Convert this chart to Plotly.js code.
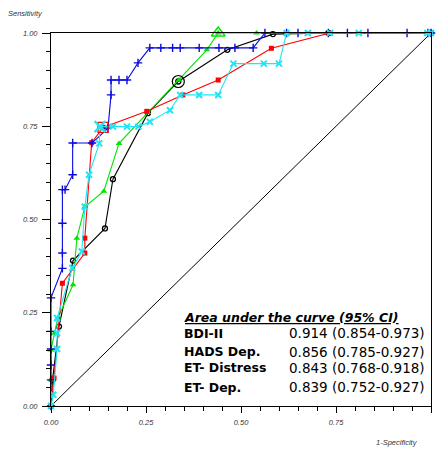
<!DOCTYPE html>
<html>
<head>
<meta charset="utf-8">
<script src="https://cdn.plot.ly/plotly-3.0.1.min.js"></script>
<style>
  html, body { margin: 0; padding: 0; background: #ffffff; }
  #chart { width: 437px; height: 450px; }
</style>
</head>
<body>
<div id="chart"></div>
<script>
// ---- Data (1-Specificity, Sensitivity) ----
const bdiFpr  = [0, 0, 0, 0, 0, 0, 0.03, 0.03, 0.03, 0.03, 0.037, 0.057, 0.057, 0.108, 0.15, 0.158, 0.158, 0.179, 0.2, 0.229, 0.26, 0.289, 0.32, 0.34, 0.39, 0.442, 0.484, 0.532, 0.563, 0.62, 0.65, 0.73, 0.78, 0.834, 0.937, 0.992, 1];
const bdiSens = [0, 0.07, 0.11, 0.153, 0.2, 0.29, 0.369, 0.41, 0.49, 0.58, 0.58, 0.62, 0.705, 0.705, 0.745, 0.834, 0.874, 0.874, 0.874, 0.92, 0.96, 0.96, 0.96, 0.96, 0.96, 0.96, 0.96, 0.96, 1, 1, 1, 1, 1, 1, 1, 1, 1];

const hadsFpr  = [0, 0.008, 0.03, 0.089, 0.089, 0.107, 0.137, 0.252, 0.347, 0.44, 0.58, 0.734, 1];
const hadsSens = [0, 0.075, 0.329, 0.41, 0.45, 0.706, 0.747, 0.79, 0.834, 0.874, 0.959, 1, 1];

const etDisFpr  = [0, 0, 0, 0.009, 0.018, 0.058, 0.068, 0.089, 0.139, 0.179, 0.255, 0.337, 0.41, 0.44, 0.541, 1];
const etDisSens = [0, 0.07, 0.15, 0.195, 0.236, 0.325, 0.45, 0.534, 0.576, 0.704, 0.787, 0.874, 0.955, 1, 1, 1];

const etDepFpr  = [0, 0.004, 0.021, 0.058, 0.142, 0.163, 0.255, 0.335, 0.464, 0.584, 0.73, 1];
const etDepSens = [0, 0.07, 0.213, 0.39, 0.476, 0.608, 0.785, 0.87, 0.955, 0.997, 1, 1];

const cyanFpr  = [0, 0.006, 0.016, 0.016, 0.016, 0.056, 0.081, 0.089, 0.1, 0.127, 0.129, 0.163, 0.2, 0.23, 0.26, 0.313, 0.34, 0.39, 0.44, 0.48, 0.56, 0.6, 0.62, 0.676, 0.734, 0.81, 0.99, 1];
const cyanSens = [0, 0.03, 0.153, 0.195, 0.236, 0.37, 0.414, 0.534, 0.62, 0.704, 0.749, 0.749, 0.749, 0.749, 0.762, 0.793, 0.834, 0.834, 0.834, 0.918, 0.918, 0.918, 1, 1, 1, 1, 1, 1];

// optimal cut-off points [fpr, sens]
const hadsCut  = [0.137, 0.747];
const cyanCut  = [0.129, 0.749];
const etDepCut = [0.335, 0.87];
const etDisCut = [0.44, 1.0];

const chanceX = [0, 1];
const chanceY = [0, 1];

const tickVals   = [0, 0.25, 0.5, 0.75, 1];
const tickLabels = ['0.00', '0.25', '0.50', '0.75', '1.00'];

const aucTitle  = 'Area under the curve (95% CI)';
const aucNames  = ['BDI-II', 'HADS Dep.', 'ET- Distress', 'ET- Dep.'];
const aucValues = ['0.914 (0.854-0.973)', '0.856 (0.785-0.927)', '0.843 (0.768-0.918)', '0.839 (0.752-0.927)'];

// ---- Traces ----
const traces = [
  { x: chanceX, y: chanceY, mode: 'lines', line: { color: '#000', width: 1 }, hoverinfo: 'skip' },
  { x: etDepFpr, y: etDepSens, mode: 'lines+markers', cliponaxis: false,
    line: { color: '#000000', width: 1.1 },
    marker: { symbol: 'circle-open', size: 5, color: '#000000', line: { width: 1.3, color: '#000' } } },
  { x: etDisFpr, y: etDisSens, mode: 'lines+markers', cliponaxis: false,
    line: { color: '#00e600', width: 1.1 },
    marker: { symbol: 'triangle-up', size: 6, color: '#00e600' } },
  { x: hadsFpr, y: hadsSens, mode: 'lines+markers', cliponaxis: false,
    line: { color: '#ff0000', width: 1.1 },
    marker: { symbol: 'square', size: 5, color: '#ff0000' } },
  { x: bdiFpr, y: bdiSens, mode: 'lines+markers', cliponaxis: false,
    line: { color: '#0a0ae0', width: 1.1 },
    marker: { symbol: 'cross-thin-open', size: 6, color: '#0a0ae0', line: { width: 1.4, color: '#0a0ae0' } } },
  { x: cyanFpr, y: cyanSens, mode: 'lines+markers', cliponaxis: false,
    line: { color: '#1ee6f5', width: 1.1 },
    marker: { symbol: 'x-thin-open', size: 6, color: '#1ee6f5', line: { width: 2, color: '#1ee6f5' } } },
  { x: [hadsCut[0]], y: [hadsCut[1]], mode: 'markers', cliponaxis: false,
    marker: { symbol: 'square-open', size: 10, color: '#ff0000', line: { width: 1.3, color: '#ff0000' } } },
  { x: [cyanCut[0]], y: [cyanCut[1]], mode: 'markers', cliponaxis: false,
    marker: { symbol: 'x-thin-open', size: 11, color: '#1ee6f5', line: { width: 2.2, color: '#1ee6f5' } } },
  { x: [etDepCut[0]], y: [etDepCut[1]], mode: 'markers', cliponaxis: false,
    marker: { symbol: 'circle-open', size: 12, color: '#000', line: { width: 1.2, color: '#222' } } },
  { x: [etDisCut[0]], y: [etDisCut[1]], mode: 'markers', cliponaxis: false,
    marker: { symbol: 'triangle-up-open', size: 12, color: '#00e600', line: { width: 1.5, color: '#00e600' } } }
];

const tickFont = { family: 'Liberation Sans, Arial, sans-serif', size: 7.5, color: '#333', style: 'italic' };

const axisCommon = {
  range: [0, 1],
  tickvals: tickVals,
  ticktext: tickLabels,
  ticks: 'outside',
  tickcolor: '#000',
  tickwidth: 1,
  showline: true,
  linecolor: '#000',
  linewidth: 1,
  mirror: true,
  showgrid: false,
  zeroline: false,
  tickfont: tickFont,
  minor: { dtick: 0.05, ticks: 'outside', ticklen: 4, tickcolor: '#000', tickwidth: 1, showgrid: false },
  fixedrange: true
};

const valueY = [0.1957, 0.1448, 0.1019, 0.0509];
const annotations = [
  { xref: 'paper', yref: 'paper', x: -0.118, y: 1.051, xanchor: 'left', yanchor: 'middle', showarrow: false,
    text: 'Sensitivity', font: tickFont },
  { xref: 'paper', yref: 'paper', x: 0.91, y: -0.099, xanchor: 'center', yanchor: 'middle', showarrow: false,
    text: '1-Specificity', font: tickFont },
  { xref: 'paper', yref: 'paper', x: 0.345, y: 0.2386, xanchor: 'left', yanchor: 'middle', showarrow: false,
    text: '<u>' + aucTitle + '</u>',
    font: { family: 'DejaVu Sans, sans-serif', size: 12.5, color: '#000', weight: 'bold', style: 'italic' } }
];
aucNames.forEach((n, i) => {
  annotations.push({ xref: 'paper', yref: 'paper', x: 0.345, y: valueY[i], xanchor: 'left', yanchor: 'middle',
    showarrow: false, text: '<b>' + n + '</b>',
    font: { family: 'DejaVu Sans, sans-serif', size: 12.5, color: '#000' } });
  annotations.push({ xref: 'paper', yref: 'paper', x: 0.99, y: valueY[i], xanchor: 'right', yanchor: 'middle',
    showarrow: false, text: aucValues[i],
    font: { family: 'DejaVu Sans, sans-serif', size: 13.5, color: '#000' } });
});

const layout = {
  width: 437,
  height: 450,
  margin: { l: 51, r: 6, t: 33, b: 44, pad: 0 },
  paper_bgcolor: '#ffffff',
  plot_bgcolor: '#ffffff',
  showlegend: false,
  xaxis: Object.assign({}, axisCommon, { ticklen: 6, ticklabelstandoff: 3 }),
  yaxis: Object.assign({}, axisCommon, { ticklen: 8, ticklabelstandoff: 3 }),
  annotations: annotations
};

Plotly.newPlot('chart', traces, layout, { displayModeBar: false, staticPlot: true });
</script>
</body>
</html>
